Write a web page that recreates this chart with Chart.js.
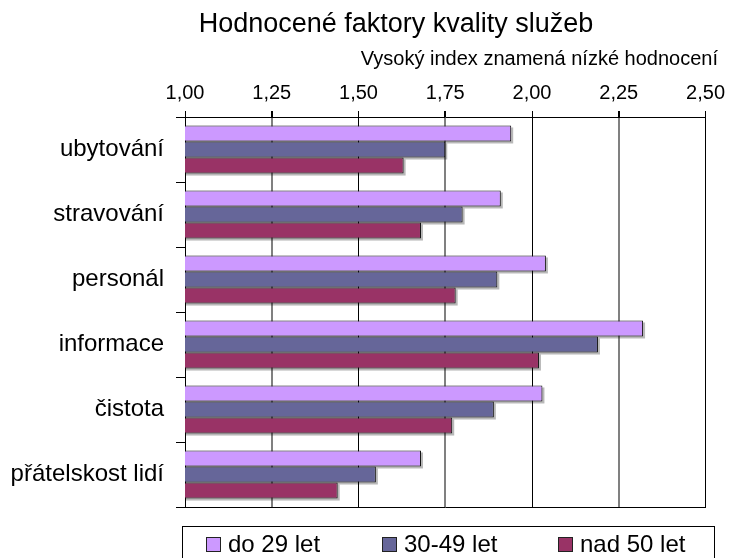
<!DOCTYPE html>
<html lang="cs">
<head>
<meta charset="utf-8">
<title>Hodnocené faktory kvality služeb</title>
<script src="https://cdn.jsdelivr.net/npm/chart.js@4.4.1/dist/chart.umd.min.js"></script>
<style>
  html, body { margin: 0; padding: 0; background: #fff; }
  #obal { width: 731px; height: 558px; position: relative; }
</style>
</head>
<body>
<div id="obal"><canvas id="graf"></canvas></div>
<script>
// data
const kategorie = ['ubytování', 'stravování', 'personál', 'informace', 'čistota', 'přátelskost lidí'];
const skupiny = ['do 29 let', '30-49 let', 'nad 50 let'];
const do29 = [1.94, 1.91, 2.04, 2.32, 2.03, 1.68];
const od30do49 = [1.75, 1.80, 1.90, 2.19, 1.89, 1.55];
const nad50 = [1.63, 1.68, 1.78, 2.02, 1.77, 1.44];
const osaMin = 1.00;
const osaMax = 2.50;
const osaKrok = 0.25;

const nadpis = 'Hodnocené faktory kvality služeb';
const podnadpis = 'Vysoký index znamená nízké hodnocení';

const krasas = ['#CC99FF', '#666699', '#993366'];
const pismo = '"Liberation Sans", Arial, sans-serif';

// nadpis a podnadpis
const nadpisy = {
    id: 'nadpisy',
    afterDraw(chart) {
        const c = chart.ctx;
        c.save();
        c.fillStyle = '#000';
        c.textBaseline = 'alphabetic';
        c.font = '27px ' + pismo;
        c.textAlign = 'center';
        c.fillText(nadpis, 396, 32);
        c.font = '20px ' + pismo;
        c.textAlign = 'right';
        c.fillText(podnadpis, 718, 65);
        c.restore();
    }
};

// stín pod sloupci (jen uvnitř plochy grafu)
const stiny = {
    id: 'stiny',
    beforeDatasetsDraw(chart) {
        const c = chart.ctx;
        const a = chart.chartArea;
        c.save();
        c.beginPath();
        c.rect(a.left, a.top, a.right - a.left + 4, a.bottom - a.top);
        c.clip();
        c.fillStyle = 'rgba(0,0,0,0.28)';
        chart.data.datasets.forEach((ds, i) => {
            chart.getDatasetMeta(i).data.forEach(el => {
                const p = el.getProps(['x', 'y', 'base', 'height'], true);
                c.fillRect(p.base + 2, p.y - p.height / 2 + 2, p.x - p.base, p.height);
            });
        });
        c.restore();
    }
};

// legenda v rámečku dole
const legendaVRamecku = {
    id: 'legendaVRamecku',
    afterDraw(chart) {
        const c = chart.ctx;
        c.save();
        c.strokeStyle = '#000';
        c.lineWidth = 1;
        c.strokeRect(182.5, 526.5, 532, 40);
        c.font = '24px ' + pismo;
        c.textBaseline = 'middle';
        c.textAlign = 'left';
        chart.data.datasets.forEach((ds, i) => {
            const x = 206 + i * 176;
            c.fillStyle = ds.backgroundColor;
            c.fillRect(x, 537, 15, 15);
            c.strokeStyle = '#222';
            c.strokeRect(x + 0.5, 537.5, 14, 14);
            c.fillStyle = '#000';
            c.fillText(ds.label, x + 22, 545);
        });
        c.restore();
    }
};

const carky = (ctx) => ctx.index % 2 ? '#808080' : '#000';

new Chart(document.getElementById('graf'), {
    type: 'bar',
    data: {
        labels: kategorie,
        datasets: [
            { label: skupiny[0], data: do29, backgroundColor: krasas[0] },
            { label: skupiny[1], data: od30do49, backgroundColor: krasas[1] },
            { label: skupiny[2], data: nad50, backgroundColor: krasas[2] }
        ]
    },
    options: {
        indexAxis: 'y',
        responsive: true,
        maintainAspectRatio: false,
        animation: false,
        layout: { padding: { top: 0, left: 0, right: 24, bottom: 51 } },
        datasets: {
            bar: {
                borderColor: '#111',
                borderWidth: 1,
                categoryPercentage: 0.74,
                barPercentage: 1.0
            }
        },
        plugins: {
            legend: { display: false },
            title: { display: false },
            tooltip: { enabled: false }
        },
        scales: {
            x: {
                position: 'top',
                min: osaMin,
                max: osaMax,
                afterFit: s => { s.height = 117; },
                ticks: {
                    stepSize: osaKrok,
                    color: '#000',
                    padding: 6,
                    font: { family: pismo, size: 20 },
                    callback: v => v.toFixed(2).replace('.', ',')
                },
                grid: {
                    color: carky,
                    lineWidth: ctx => ctx.index % 2 ? 2 : 1,
                    tickColor: '#000',
                    tickLength: 6
                },
                border: { display: true, color: '#000', width: 1 }
            },
            x2: {
                position: 'bottom',
                min: osaMin,
                max: osaMax,
                afterFit: s => { s.height = 0; },
                ticks: { display: false },
                grid: { drawOnChartArea: false, drawTicks: false },
                border: { display: true, color: '#000', width: 1 }
            },
            y: {
                afterFit: s => { s.width = 185; },
                ticks: {
                    color: '#000',
                    padding: 12,
                    font: { family: pismo, size: 24 }
                },
                grid: {
                    drawOnChartArea: false,
                    color: '#000',
                    tickLength: 9,
                    offset: true
                },
                border: { display: true, color: '#000', width: 1 }
            }
        }
    },
    plugins: [stiny, nadpisy, legendaVRamecku]
});
</script>
</body>
</html>
